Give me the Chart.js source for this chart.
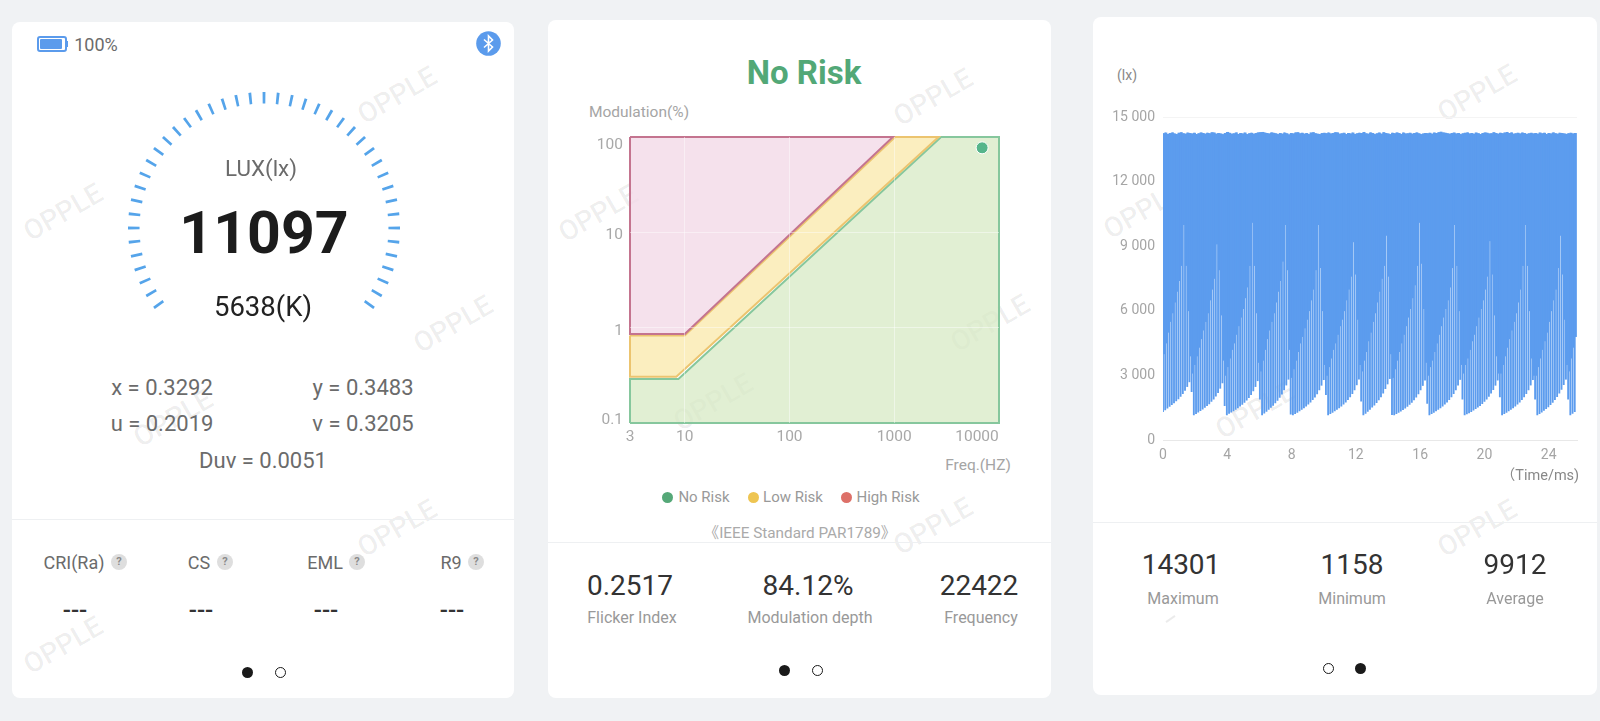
<!DOCTYPE html>
<html>
<head>
<meta charset="utf-8">
<title>Flicker report</title>
<script src="https://cdn.jsdelivr.net/npm/chart.js@4/dist/chart.umd.min.js"></script>
<style>
html, body { margin: 0; padding: 0; width: 1600px; height: 721px; overflow: hidden; background: #f0f2f4; font-family: Roboto, "Noto Sans CJK SC", sans-serif; }
.card { position: absolute; background: #fff; border-radius: 8px; }
.t { position: absolute; transform: translate(-50%, -50%); white-space: nowrap; }
.wm { position: absolute; transform: translate(-50%, -50%) rotate(-30deg); font-size: 28px; font-weight: 500; color: rgba(0,0,0,0.07); white-space: nowrap; }
.line { position: absolute; height: 1px; background: #eef0f2; }
canvas { position: absolute; }
.read { font-size: 22px; color: #6b6b6b; }
.head { font-size: 18px; color: #6b6b6b; }
.dash { font-size: 24px; color: #333; font-weight: 500; }
.q { position: absolute; width: 16px; height: 16px; margin: -8px 0 0 -8px; border-radius: 50%; background: #dedede; color: #8a8a8a; font-size: 11px; font-weight: 700; line-height: 16px; text-align: center; }
.dot { position: absolute; width: 11px; height: 11px; margin: -5.5px 0 0 -5.5px; border-radius: 50%; background: #1a1a1a; }
.dot.open { background: #fff; box-sizing: border-box; border: 1.5px solid #1a1a1a; }
.big { font-size: 28px; color: #333; }
.small { font-size: 16px; color: #999; }
.axis { font-size: 15.5px; color: #a5a5a5; }
.leg { font-size: 15px; color: #999; }
.ldot { position: absolute; width: 11px; height: 11px; margin: -5.5px 0 0 -5.5px; border-radius: 50%; }
</style>
</head>
<body>

<div class="card" style="left:12px;top:22px;width:502px;height:676px"></div>
<div class="card" style="left:548px;top:20px;width:503px;height:678px"></div>
<div class="card" style="left:1093px;top:17px;width:504px;height:678px"></div>

<div class="wm" style="left:397px;top:95px">OPPLE</div>
<div class="wm" style="left:63px;top:212px">OPPLE</div>
<div class="wm" style="left:453px;top:324px">OPPLE</div>
<div class="wm" style="left:173px;top:418px">OPPLE</div>
<div class="wm" style="left:397px;top:528px">OPPLE</div>
<div class="wm" style="left:63px;top:645px">OPPLE</div>
<div class="wm" style="left:933px;top:97px">OPPLE</div>
<div class="wm" style="left:598px;top:213px">OPPLE</div>
<div class="wm" style="left:990px;top:323px">OPPLE</div>
<div class="wm" style="left:713px;top:402px">OPPLE</div>
<div class="wm" style="left:933px;top:526px">OPPLE</div>
<div class="wm" style="left:1477px;top:93px">OPPLE</div>
<div class="wm" style="left:1143px;top:210px">OPPLE</div>
<div class="wm" style="left:1255px;top:410px">OPPLE</div>
<div class="wm" style="left:1477px;top:528px">OPPLE</div>
<div style="position:absolute;left:1165px;top:618px;width:11px;height:2px;background:rgba(0,0,0,0.08);transform:rotate(-35deg)"></div>

<!-- card 1 -->
<div style="position:absolute;left:37px;top:36px;width:26px;height:12px;border:2px solid #5b9bec;border-radius:3px;background:#fff"></div>
<div style="position:absolute;left:40px;top:39px;width:22px;height:10px;background:#5b9bec;border-radius:1px"></div>
<div style="position:absolute;left:66px;top:41px;width:2px;height:6px;background:#5b9bec"></div>
<div class="t" style="left:96px;top:44px;font-size:18px;color:#6b6b6b">100%</div>
<svg style="position:absolute;left:476px;top:31px" width="25" height="25" viewBox="0 0 25 25">
  <circle cx="12.5" cy="12.5" r="12.3" fill="#5b9bec"/>
  <polyline points="8,8.5 16.5,16 12.5,20 12.5,5 16.5,9 8,16.5" fill="none" stroke="#fff" stroke-width="1.6"/>
</svg>
<canvas id="gaugeChart" width="290" height="290" style="left:118.5px;top:83px"></canvas>
<div class="t" style="left:261px;top:168px;font-size:22.4px;color:#6b6b6b">LUX(lx)</div>
<div class="t" style="left:264px;top:232px;font-size:59px;font-weight:700;color:#1c1c1c">11097</div>
<div class="t" style="left:263px;top:306px;font-size:27.5px;color:#222">5638(K)</div>
<div class="t read" style="left:162px;top:387px">x = 0.3292</div>
<div class="t read" style="left:363px;top:387px">y = 0.3483</div>
<div class="t read" style="left:162px;top:423px">u = 0.2019</div>
<div class="t read" style="left:363px;top:423px">v = 0.3205</div>
<div class="t read" style="left:263px;top:460px">Duv = 0.0051</div>
<div class="line" style="left:12px;top:519px;width:502px"></div>
<div class="t head" style="left:74px;top:562px">CRI(Ra)</div><div class="q" style="left:119px;top:562px">?</div>
<div class="t head" style="left:199px;top:562px">CS</div><div class="q" style="left:225px;top:562px">?</div>
<div class="t head" style="left:325px;top:562px">EML</div><div class="q" style="left:357px;top:562px">?</div>
<div class="t head" style="left:451px;top:562px">R9</div><div class="q" style="left:476px;top:562px">?</div>
<div class="t dash" style="left:75px;top:610px">---</div>
<div class="t dash" style="left:201px;top:610px">---</div>
<div class="t dash" style="left:326px;top:610px">---</div>
<div class="t dash" style="left:452px;top:610px">---</div>
<div class="dot" style="left:247px;top:672px"></div>
<div class="dot open" style="left:280px;top:672px"></div>

<!-- card 2 -->
<div class="t" style="left:804px;top:72px;font-size:33px;font-weight:700;color:#52a877">No Risk</div>
<div class="t axis" style="left:639px;top:112px">Modulation(%)</div>
<canvas id="riskChart" width="430" height="330" style="left:590px;top:120px"></canvas>
<div class="t axis" style="left:978px;top:465px">Freq.(HZ)</div>
<div class="ldot" style="left:667px;top:497px;background:#55a878"></div><div class="t leg" style="left:704px;top:497px">No Risk</div>
<div class="ldot" style="left:753px;top:497px;background:#eec552"></div><div class="t leg" style="left:793px;top:497px">Low Risk</div>
<div class="ldot" style="left:846px;top:497px;background:#dd7068"></div><div class="t leg" style="left:888px;top:497px">High Risk</div>
<div class="t" style="left:800px;top:531px;font-size:15.3px;color:#aaa">《IEEE Standard PAR1789》</div>
<div class="line" style="left:548px;top:542px;width:503px"></div>
<div class="t big" style="left:630px;top:585px">0.2517</div>
<div class="t big" style="left:808px;top:585px">84.12%</div>
<div class="t big" style="left:979px;top:585px">22422</div>
<div class="t small" style="left:632px;top:617px">Flicker Index</div>
<div class="t small" style="left:810px;top:617px">Modulation depth</div>
<div class="t small" style="left:981px;top:617px">Frequency</div>
<div class="dot" style="left:784px;top:670px"></div>
<div class="dot open" style="left:817px;top:670px"></div>

<!-- card 3 -->
<div class="t" style="left:1127px;top:75px;font-size:14px;color:#888">(lx)</div>
<canvas id="waveChart" width="504" height="420" style="left:1093px;top:60px"></canvas>
<div class="t" style="left:1540px;top:473px;font-size:14.5px;color:#888">（Time/ms)</div>
<div class="line" style="left:1093px;top:522px;width:504px"></div>
<div class="t big" style="left:1181px;top:564px">14301</div>
<div class="t big" style="left:1352px;top:564px">1158</div>
<div class="t big" style="left:1515px;top:564px">9912</div>
<div class="t small" style="left:1183px;top:598px">Maximum</div>
<div class="t small" style="left:1352px;top:598px">Minimum</div>
<div class="t small" style="left:1515px;top:598px">Average</div>
<div class="dot open" style="left:1328px;top:668px"></div>
<div class="dot" style="left:1360px;top:668px"></div>

<script>
// gauge: 43 ticks, each slice given in degrees
const gaugeTicks = [1.2,1.2,1.2,1.2,1.2,1.2,1.2,1.2,1.2,1.2,1.2,1.2,1.2,1.2,1.2,1.2,1.2,1.2,1.2,1.2,1.2,
                    1.2,1.2,1.2,1.2,1.2,1.2,1.2,1.2,1.2,1.2,1.2,1.2,1.2,1.2,1.2,1.2,1.2,1.2,1.2,1.2,1.2,1.2];
const gaugeGap = 4.8;
const gaugeOpening = 106.8;

// risk regions, frequency (Hz) and modulation (%) of each outline
const highRiskFreq = [3, 3, 10, 970, 3];
const highRiskMod = [100, 0.857, 0.857, 100, 100];
const lowRiskFreq = [3, 3, 8.3, 2650, 1020, 10, 3];
const lowRiskMod = [0.83, 0.306, 0.306, 100, 100, 0.83, 0.83];
const noRiskFreq = [3, 3, 8.7, 2800, 10000, 10000, 3];
const noRiskMod = [0.1, 0.29, 0.29, 100, 100, 0.1, 0.1];
const measuredFreq = [6900];
const measuredMod = [77];
const freqTicks = [3, 10, 100, 1000, 10000];
const modTicks = [0.1, 1, 10, 100];

// waveform, one bar per sample
const sampleStepMs = 0.137;
const waveTop = [
  14230,14260,14200,14240,14270,14220,14190,14250,14280,14230,14210,14260,14240,
  14220,14250,14190,14230,14270,14240,14210,14250,14230,14280,14260,14210,14240,14220,14190,
  14240,14290,14250,14210,14230,14270,14200,14240,14220,14260,14190,14230,14250,14210,14240,14270,
  14280,14290,14260,14240,14220,14270,14250,14230,14190,14240,14210,14260,14230,14180,
  14240,14220,14270,14280,14230,14250,14210,14240,14190,14260,14280,14230,14210,14190,14240,14250,
  14230,14260,14220,14240,14280,14270,14210,14230,14250,14190,14240,14220,14260,14200,14230,14250,
  14240,14290,14230,14210,14270,14240,14190,14230,14260,14210,14280,14240,14220,14190,
  14250,14230,14270,14240,14200,14260,14220,14230,14250,14210,14240,14270,14230,14190,14220,14240,
  14230,14250,14210,14260,14240,14280,14300,14270,14250,14230,14210,14240,14260,14220,14240,14190,
  14230,14250,14270,14220,14240,14210,14260,14230,14190,14240,14270,14250,14220,14230,14280,14240,14210,
  14250,14230,14260,14290,14240,14270,14210,14230,14250,14220,14260,14240,14200,14230,14250,14220,
  14240,14210,14260,14230,14250,14190,14240,14220,14270,14230,14210,14250,14240,14220,14200,
  14230,14250,14220,14240
];
// height where the gap after each sample closes up
const waveSolidFrom = [
  4000,4500,5000,5500,5900,6400,6900,7400,8100,10000,8100,6000,3900,
  3100,3500,3900,4300,4700,5100,5500,5900,6500,7000,7500,9100,7900,5800,3700,
  3000,3400,3800,4200,4500,4900,5300,5700,6100,6600,7100,8100,10100,8100,5900,3600,
  3200,3700,4200,4700,5100,5500,5900,6400,6900,7400,8300,10000,7900,4200,
  2900,3300,3700,4100,4500,4800,5200,5600,6000,6500,7000,7900,10000,8000,6000,3500,
  3000,3400,3800,4200,4500,4900,5300,5600,6000,6500,7000,7600,9200,7700,5600,3500,
  3200,3700,4100,4600,5000,5500,5900,6400,6900,7500,8100,9500,7600,4000,
  2900,3300,3700,4100,4500,4900,5300,5700,6100,6600,7200,8100,10100,8200,6100,3600,
  3000,3400,3700,4100,4500,4900,5300,5700,6100,6500,7100,8000,10000,8100,6000,3500,
  3100,3500,3800,4200,4600,4900,5300,5700,6100,6500,7000,7600,9250,7700,5800,3900,3100,
  3100,3500,3900,4300,4700,5100,5500,5900,6400,7000,8100,10000,8100,6000,3800,3000,
  3000,3400,3800,4200,4600,5000,5500,6000,6500,7000,8000,9500,7700,5600,3500,
  3200,3800,4300,4800
];
const waveLow = [
  1320,1400,1480,1560,1640,1720,1810,1910,2020,2150,2300,2480,2700,
  2250,1160,1220,1290,1360,1430,1510,1590,1680,1790,1900,2040,2200,2400,2650,
  1600,1170,1230,1290,1350,1420,1490,1570,1650,1740,1850,1970,2110,2280,2480,2750,
  1900,1170,1250,1330,1420,1510,1610,1720,1840,1980,2130,2320,2550,2820,
  1200,1170,1220,1280,1350,1420,1490,1570,1660,1760,1870,1990,2140,2320,2540,2800,
  2100,1170,1220,1280,1350,1420,1490,1570,1660,1760,1870,2000,2150,2330,2560,2820,
  1800,1160,1240,1330,1420,1520,1620,1730,1860,2000,2170,2380,2600,2850,
  1180,1170,1220,1280,1340,1410,1480,1560,1650,1750,1860,1990,2140,2320,2530,2780,
  1700,1170,1220,1280,1350,1420,1490,1570,1660,1760,1870,2000,2150,2330,2550,2810,
  1900,1170,1210,1260,1320,1380,1450,1520,1600,1690,1790,1900,2020,2170,2340,2540,2780,
  2000,1170,1220,1280,1350,1420,1490,1570,1660,1760,1870,2000,2150,2330,2550,2800,
  1900,1160,1220,1290,1370,1450,1540,1640,1750,1870,2010,2170,2350,2570,2820,
  1900,1170,1240,1320
];
const timeTicks = [0, 4, 8, 12, 16, 20, 24];
const luxTicks = [0, 3000, 6000, 9000, 12000, 15000];
const luxLabels = ['0', '3 000', '6 000', '9 000', '12 000', '15 000'];

Chart.defaults.animation = false;
Chart.defaults.font.family = 'Roboto';
Chart.defaults.plugins.legend.display = false;
Chart.defaults.plugins.tooltip.enabled = false;

function xy(xs, ys) {
    return xs.map(function (x, i) { return { x: x, y: ys[i] }; });
}

// gauge
const gaugeData = [];
const gaugeColors = [];
gaugeTicks.forEach(function (t, i) {
    gaugeData.push(t);
    gaugeColors.push('#55a4ea');
    if (i < gaugeTicks.length - 1) {
        gaugeData.push(gaugeGap);
        gaugeColors.push('rgba(0,0,0,0)');
    }
});
gaugeData.push(gaugeOpening);
gaugeColors.push('rgba(0,0,0,0)');

new Chart(document.getElementById('gaugeChart'), {
    type: 'doughnut',
    data: {
        datasets: [{ data: gaugeData, backgroundColor: gaugeColors, borderWidth: 0 }]
    },
    options: {
        responsive: false,
        rotation: -126.6,
        radius: 136,
        cutout: '91.5%'
    }
});

// the end labels sit inside the plot edge in the original, so draw them by hand
const riskLabels = {
    id: 'riskLabels',
    afterDraw: function (chart) {
        const ctx = chart.ctx;
        const xScale = chart.scales.x;
        const yScale = chart.scales.y;
        ctx.save();
        ctx.fillStyle = '#a8a8a8';
        ctx.font = '15.5px Roboto';
        ctx.textBaseline = 'middle';
        ctx.textAlign = 'center';
        freqTicks.forEach(function (v) {
            let x = xScale.getPixelForValue(v);
            if (v === 10000) x -= 22;
            ctx.fillText(String(v), x, chart.chartArea.bottom + 14);
        });
        ctx.textAlign = 'right';
        modTicks.forEach(function (v) {
            let y = yScale.getPixelForValue(v) + 2;
            if (v === 100) y += 6;
            if (v === 0.1) y -= 5;
            if (v === 1 || v === 10) y += 1;
            ctx.fillText(String(v), chart.chartArea.left - 7, y);
        });
        ctx.restore();
    }
};

new Chart(document.getElementById('riskChart'), {
    type: 'scatter',
    data: {
        datasets: [
            { data: xy(measuredFreq, measuredMod), order: 0, pointRadius: 6, pointBackgroundColor: '#56b58b', pointBorderColor: '#ffffff', pointBorderWidth: 1, showLine: false },
            { data: xy(noRiskFreq, noRiskMod), order: 3, showLine: true, fill: 'shape', backgroundColor: 'rgba(214,233,194,0.72)', borderColor: '#86c79d', borderWidth: 2, pointRadius: 0, clip: 4 },
            { data: xy(lowRiskFreq, lowRiskMod), order: 2, showLine: true, fill: 'shape', backgroundColor: 'rgba(250,232,170,0.75)', borderColor: '#ecc46f', borderWidth: 2, pointRadius: 0, clip: 4 },
            { data: xy(highRiskFreq, highRiskMod), order: 1, showLine: true, fill: 'shape', backgroundColor: 'rgba(243,218,231,0.8)', borderColor: '#c4748f', borderWidth: 2, pointRadius: 0, clip: 4 }
        ]
    },
    plugins: [riskLabels],
    options: {
        responsive: false,
        layout: { padding: { left: 40, right: 21, top: 17, bottom: 27 } },
        scales: {
            x: {
                type: 'logarithmic',
                min: 3,
                max: 10000,
                afterBuildTicks: function (s) { s.ticks = [{ value: 10 }, { value: 100 }, { value: 1000 }]; },
                ticks: { display: false },
                grid: { color: 'rgba(255,255,255,0.45)', drawTicks: false, z: 1 },
                border: { display: false }
            },
            y: {
                type: 'logarithmic',
                min: 0.1,
                max: 100,
                afterBuildTicks: function (s) { s.ticks = [{ value: 1 }, { value: 10 }]; },
                ticks: { display: false },
                grid: { color: 'rgba(255,255,255,0.45)', drawTicks: false, z: 1 },
                border: { display: false }
            }
        }
    }
});

// waveform: a thin bar per sample, white shows between them until the filler closes the gap
const sampleTimes = waveLow.map(function (v, i) { return i * sampleStepMs; });

new Chart(document.getElementById('waveChart'), {
    type: 'bar',
    data: {
        datasets: [
            {
                data: sampleTimes.map(function (t, i) { return { x: t, y: [waveLow[i], waveTop[i]] }; }),
                backgroundColor: '#5c9cee',
                barThickness: 1.2,
                grouped: false
            },
            {
                data: sampleTimes.map(function (t, i) { return { x: t + sampleStepMs / 2, y: [waveSolidFrom[i], waveTop[i]] }; }),
                backgroundColor: '#5c9cee',
                barThickness: 1.4,
                grouped: false
            }
        ]
    },
    options: {
        responsive: false,
        layout: { padding: { left: 0, right: 20, top: 57, bottom: 0 } },
        scales: {
            x: {
                type: 'linear',
                offset: false,
                min: 0,
                max: 25.76,
                afterBuildTicks: function (s) { s.ticks = timeTicks.map(function (v) { return { value: v }; }); },
                afterFit: function (s) { s.height = 40; },
                ticks: { color: '#a5a5a5', font: { size: 14 }, padding: 7, maxRotation: 0, autoSkip: false },
                grid: { display: false, drawTicks: false },
                border: { color: '#e8e8e8' }
            },
            y: {
                min: 0,
                max: 15000,
                afterBuildTicks: function (s) { s.ticks = luxTicks.map(function (v) { return { value: v }; }); },
                afterFit: function (s) { s.width = 70; },
                ticks: {
                    color: '#a5a5a5',
                    font: { size: 14 },
                    padding: 8,
                    callback: function (v, i) { return luxLabels[i]; }
                },
                grid: { color: function (c) { return c.tick.value === 15000 ? '#f4f4f4' : 'rgba(0,0,0,0)'; }, drawTicks: false },
                border: { display: false }
            }
        }
    }
});
</script>
</body>
</html>
